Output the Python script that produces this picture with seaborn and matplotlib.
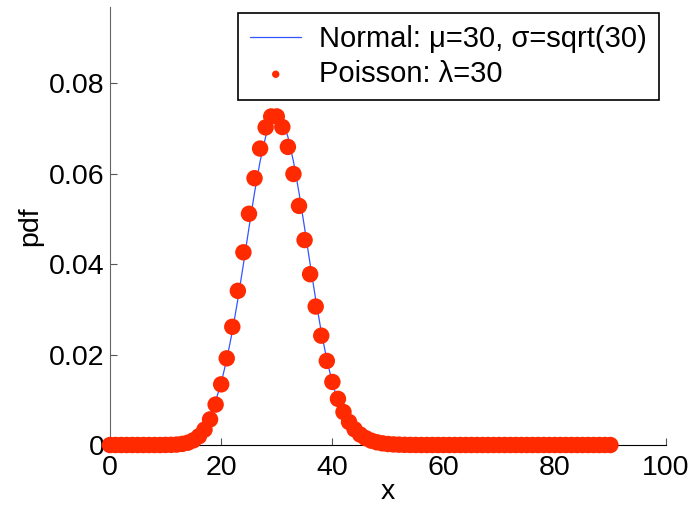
import matplotlib
matplotlib.use("Agg")
from matplotlib import pyplot as plt
import numpy as np
import pandas as pd
import seaborn as sns

# values
poisson_lo = [0.0, 0.0, 0.0, 0.0, 0.0, 0.0, 0.0, 0.0, 0.0, 0.0,
              0.00002, 0.00004, 0.00010, 0.00024, 0.00051, 0.00103, 0.00193, 0.00340, 0.00566, 0.00894,
              0.01341, 0.01916, 0.02613, 0.03408, 0.04260, 0.05111, 0.05898, 0.06553, 0.07021, 0.07263,
              0.07263, 0.07029, 0.06590, 0.05991, 0.05286, 0.04531, 0.03776, 0.03061, 0.02417, 0.01859,
              0.01394, 0.01020, 0.00729, 0.00508, 0.00347, 0.00231, 0.00151, 0.00096, 0.00060, 0.00037,
              0.00022, 0.00013, 0.00008, 0.00004, 0.00002, 0.00001]
poisson_pmf = poisson_lo + [0.0] * (91 - len(poisson_lo))
normal_half = [0.07284, 0.07164, 0.06814, 0.06269, 0.05579, 0.04802, 0.03998, 0.03219, 0.02507,
               0.01888, 0.01376, 0.00970, 0.00661, 0.00436, 0.00278, 0.00171, 0.00102, 0.00059,
               0.00033, 0.00018, 0.00009, 0.00004, 0.00002, 0.00001]
normal_half = normal_half + [0.0] * (61 - len(normal_half))
normal_pdf = normal_half[30:0:-1] + normal_half
x_vals = list(range(0, 91))

x_ticks = [0, 20, 40, 60, 80, 100]
y_ticks = [0, 0.02, 0.04, 0.06, 0.08]
y_tick_labels = ["0", "0.02", "0.04", "0.06", "0.08"]

df = pd.DataFrame({"x": x_vals, "normal": normal_pdf, "poisson": poisson_pmf})

sns.set_style("ticks")
plt.rcParams["font.family"] = ["Liberation Sans", "DejaVu Sans"]
plt.rcParams["text.color"] = "black"
plt.rcParams["axes.labelcolor"] = "black"
plt.rcParams["xtick.labelcolor"] = "black"
plt.rcParams["ytick.labelcolor"] = "black"

fig = plt.figure(figsize=(6.93, 5.08), dpi=100)
ax = fig.add_axes([0.1587, 0.124, 0.8023, 0.862])

sns.lineplot(data=df, x="x", y="normal", ax=ax, color="#3355ff", linewidth=0.9,
             label="Normal: \u03bc=30, \u03c3=sqrt(30)")
sns.scatterplot(data=df, x="x", y="poisson", ax=ax, color="#ff2a00", s=140,
                edgecolor="none", clip_on=False, zorder=3, label="Poisson: \u03bb=30")

ax.set_xlim(0, 100)
ax.set_ylim(0, 0.0968)
ax.set_xticks(x_ticks)
ax.set_yticks(y_ticks)
ax.set_yticklabels(y_tick_labels)
ax.tick_params(direction="in", length=5, labelsize=20.5, color="#555555")
ax.tick_params(axis="x", pad=7)
ax.tick_params(axis="y", pad=4)
ax.set_xlabel("x", fontsize=20.5, labelpad=-1)
ax.set_ylabel("pdf", fontsize=20.5, labelpad=4)
sns.despine(ax=ax)
ax.spines["left"].set_color("#666666")
ax.spines["bottom"].set_color("black")

leg = ax.legend(loc="upper right", bbox_to_anchor=(0.987, 0.986), borderaxespad=0,
                fontsize=21, frameon=True, fancybox=False, edgecolor="black", framealpha=1,
                markerscale=0.45, handlelength=1.75, handletextpad=0.6,
                borderpad=0.42, labelspacing=0.22)
leg.get_frame().set_linewidth(1.2)

fig.savefig("out.png", dpi=100)
